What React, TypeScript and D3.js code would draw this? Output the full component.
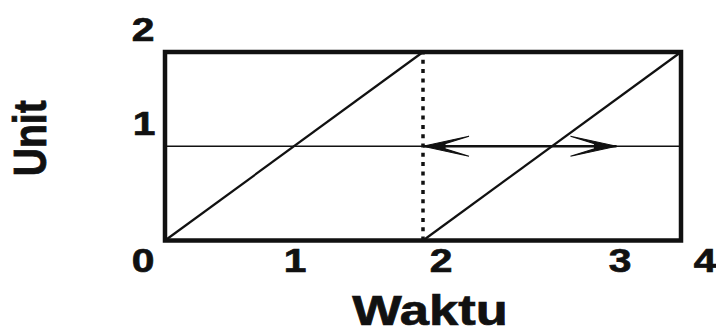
import React from "react";
import * as d3 from "d3";

// Sawtooth segments (Waktu, Unit)
const rampStarts: number[] = [0, 2];
const rampEnds: number[] = [2, 4];
const rampLow = 0;
const rampHigh = 2;

// Reference level and the period marker
const levelValue = 1;
const markerTime = 2;

// Double-headed arrow span along the level line
const arrowFrom: [number, number] = [2, 1];
const arrowTo: [number, number] = [3.5, 1];

// Axis ticks
const xTickValues: number[] = [0, 1, 2, 3, 4];
const xTickLabels: string[] = ["0", "1", "2", "3", "4"];
const yTickValues: number[] = [1, 2];
const yTickLabels: string[] = ["1", "2"];

const xTitle = "Waktu";
const yTitle = "Unit";

// Layout
const W = 716;
const H = 334;
const plot = { left: 165, right: 681, top: 52, bottom: 240.5 };
const xLabelNudge = [-22, 1, 18, 68, 24];
const yLabelNudge = [-21, -22];
const stretch = 1.2;
const font = "'Liberation Sans', Arial, sans-serif";
const ink = "#111";

function Arrowhead({ x, y, dir }: { x: number; y: number; dir: 1 | -1 }) {
  // concave dart with thin barbs
  const p = d3.path();
  p.moveTo(0, 0);
  p.lineTo(-46, -10);
  p.lineTo(-22, -2.5);
  p.lineTo(-22, 2.5);
  p.lineTo(-46, 10);
  p.closePath();
  return (
    <path
      d={p.toString()}
      transform={`translate(${x},${y}) scale(${dir},1)`}
      fill={ink}
      stroke={ink}
      strokeWidth={1.2}
      strokeLinejoin="miter"
    />
  );
}

export default function App() {
  const x = d3.scaleLinear().domain([0, 4]).range([plot.left, plot.right]);
  const y = d3.scaleLinear().domain([0, 2]).range([plot.bottom, plot.top]);

  const line = d3
    .line<[number, number]>()
    .x((d) => x(d[0]))
    .y((d) => y(d[1]));

  const textStyle = {
    fontFamily: font,
    fontWeight: "bold" as const,
    fill: ink,
    stroke: ink,
    strokeWidth: 0.7,
  };

  return (
    <svg
      width={W}
      height={H}
      viewBox={`0 0 ${W} ${H}`}
      style={{ position: "absolute", left: 0, top: 0, display: "block", background: "#fff" }}
    >
      {/* ramps */}
      {rampStarts.map((s, i) => (
        <path
          key={`ramp-${i}`}
          d={line([
            [s, rampLow],
            [rampEnds[i], rampHigh],
          ]) || ""}
          fill="none"
          stroke={ink}
          strokeWidth={2.2}
        />
      ))}

      {/* level line */}
      <path
        d={line([
          [0, levelValue],
          [4, levelValue],
        ]) || ""}
        fill="none"
        stroke={ink}
        strokeWidth={1.6}
      />

      {/* period marker */}
      <path
        d={line([
          [markerTime, 0],
          [markerTime, 2],
        ]) || ""}
        fill="none"
        stroke={ink}
        strokeWidth={3.5}
        strokeDasharray="4 5.3"
      />

      {/* double arrow */}
      <path
        d={line([arrowFrom, arrowTo]) || ""}
        fill="none"
        stroke={ink}
        strokeWidth={2.6}
      />
      <Arrowhead x={x(arrowFrom[0])} y={y(arrowFrom[1])} dir={-1} />
      <Arrowhead x={x(arrowTo[0])} y={y(arrowTo[1])} dir={1} />

      {/* frame */}
      <rect
        x={x(0)}
        y={y(2)}
        width={x(4) - x(0)}
        height={y(0) - y(2)}
        fill="none"
        stroke={ink}
        strokeWidth={4.5}
      />

      {/* x tick labels */}
      {xTickValues.map((v, i) => (
        <g
          key={`xt-${i}`}
          transform={`translate(${x(v) + xLabelNudge[i]},${y(0) + 31.5}) scale(${stretch},1)`}
        >
          <text textAnchor="middle" fontSize={34} {...textStyle}>
            {xTickLabels[i]}
          </text>
        </g>
      ))}

      {/* y tick labels */}
      {yTickValues.map((v, i) => (
        <g
          key={`yt-${i}`}
          transform={`translate(${plot.left + yLabelNudge[i]},${y(v) - 11}) scale(${stretch},1)`}
        >
          <text textAnchor="middle" fontSize={34} {...textStyle}>
            {yTickLabels[i]}
          </text>
        </g>
      ))}

      {/* axis titles */}
      <g transform={`translate(${(plot.left + plot.right) / 2 + 7},${H - 9}) scale(1.25,1)`}>
        <text textAnchor="middle" fontSize={42} {...textStyle}>
          {xTitle}
        </text>
      </g>
      <g transform={`translate(46,${(plot.top + plot.bottom) / 2 - 8}) rotate(-90) scale(1,${stretch})`}>
        <text textAnchor="middle" fontSize={39} {...textStyle}>
          {yTitle}
        </text>
      </g>
    </svg>
  );
}
